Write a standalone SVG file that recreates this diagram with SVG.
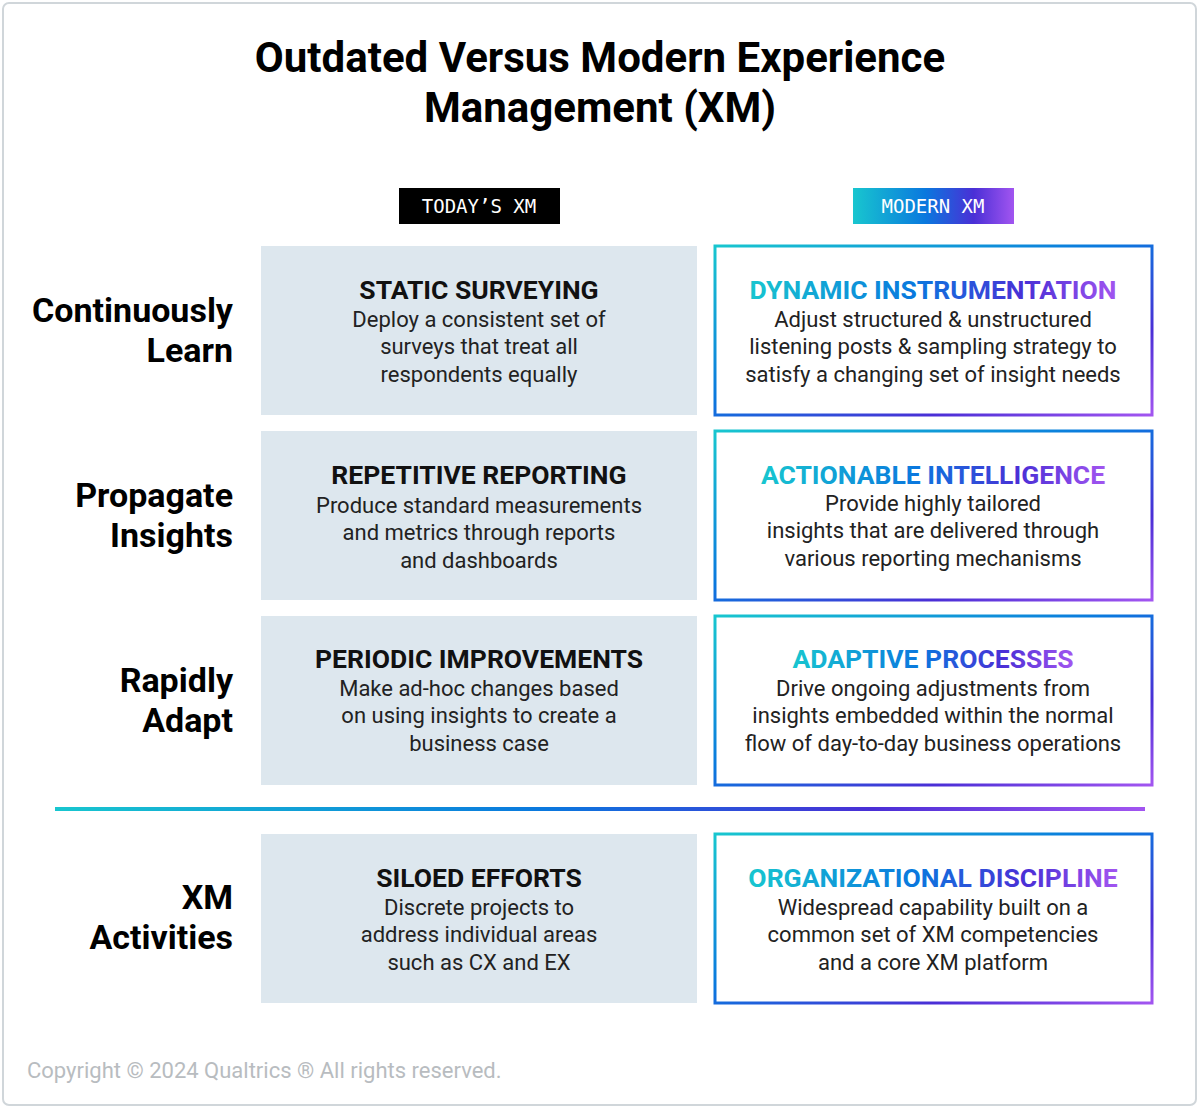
<svg xmlns="http://www.w3.org/2000/svg" width="1200" height="1109" viewBox="0 0 1200 1109">
<defs>
<linearGradient id="g" x1="0" y1="0" x2="1" y2="1"><stop offset="0" stop-color="#18c6cf"/><stop offset="0.45" stop-color="#0a78de"/><stop offset="0.75" stop-color="#4a2fd6"/><stop offset="1" stop-color="#a255f0"/></linearGradient>
<linearGradient id="gh" x1="0" y1="0" x2="1" y2="0"><stop offset="0" stop-color="#18c6cf"/><stop offset="0.45" stop-color="#0a78de"/><stop offset="0.75" stop-color="#4a2fd6"/><stop offset="1" stop-color="#a255f0"/></linearGradient>
<linearGradient id="gl" gradientUnits="userSpaceOnUse" x1="55" y1="0" x2="1145" y2="0"><stop offset="0" stop-color="#18c6cf"/><stop offset="0.45" stop-color="#0a78de"/><stop offset="0.75" stop-color="#4a2fd6"/><stop offset="1" stop-color="#a255f0"/></linearGradient>
<style>
.t{font-family:Roboto,"Liberation Sans",sans-serif;text-anchor:middle}
.row{font-family:Roboto,"Liberation Sans",sans-serif;font-weight:bold;font-size:34px;text-anchor:end;fill:#000}
.old{fill:#dde7ee}
.new{fill:#fff;stroke:url(#g);stroke-width:3}
.h{font-weight:bold;font-size:26.5px;fill:#111}
.hg{font-weight:bold;font-size:26.5px;fill:url(#gh)}
.b{font-size:22px;fill:#222}
.m{font-family:"DejaVu Sans Mono","Liberation Mono",monospace;font-size:19px;fill:#fff;text-anchor:middle}
</style>
</defs>
<rect x="3" y="3" width="1193" height="1102" rx="6" fill="#fff" stroke="#d0d6da" stroke-width="2"/>
<text class="t" x="600" y="72" font-size="42" font-weight="bold">Outdated Versus Modern Experience</text>
<text class="t" x="600" y="122" font-size="42" font-weight="bold">Management (XM)</text>
<g id="hdr-today"><rect x="399" y="188" width="161" height="36" fill="#000"/><text class="m" x="479" y="213">TODAY’S XM</text></g>
<g id="hdr-modern"><rect x="853" y="188" width="161" height="36" fill="url(#gh)"/><text class="m" x="933" y="213">MODERN XM</text></g>
<g id="lbl1"><text class="row" x="233" y="322">Continuously</text><text class="row" x="233" y="362">Learn</text></g>
<g id="lbl2"><text class="row" x="233" y="507">Propagate</text><text class="row" x="233" y="547">Insights</text></g>
<g id="lbl3"><text class="row" x="233" y="692">Rapidly</text><text class="row" x="233" y="732">Adapt</text></g>
<g id="lbl4"><text class="row" x="233" y="909">XM</text><text class="row" x="233" y="949">Activities</text></g>
<g id="o1"><rect class="old" x="261" y="246" width="436" height="169"/><text class="t h" x="479" y="299">STATIC SURVEYING</text><text class="t b" x="479" y="327">Deploy a consistent set of</text><text class="t b" x="479" y="354">surveys that treat all</text><text class="t b" x="479" y="382">respondents equally</text></g>
<g id="n1"><rect class="new" x="715" y="246" width="437" height="169"/><text class="t hg" x="933" y="299">DYNAMIC INSTRUMENTATION</text><text class="t b" x="933" y="327">Adjust structured &amp; unstructured</text><text class="t b" x="933" y="354">listening posts &amp; sampling strategy to</text><text class="t b" x="933" y="382">satisfy a changing set of insight needs</text></g>
<g id="o2"><rect class="old" x="261" y="431" width="436" height="169"/><text class="t h" x="479" y="484">REPETITIVE REPORTING</text><text class="t b" x="479" y="513">Produce standard measurements</text><text class="t b" x="479" y="540">and metrics through reports</text><text class="t b" x="479" y="568">and dashboards</text></g>
<g id="n2"><rect class="new" x="715" y="431" width="437" height="169"/><text class="t hg" x="933" y="484">ACTIONABLE INTELLIGENCE</text><text class="t b" x="933" y="511">Provide highly tailored</text><text class="t b" x="933" y="538">insights that are delivered through</text><text class="t b" x="933" y="566">various reporting mechanisms</text></g>
<g id="o3"><rect class="old" x="261" y="616" width="436" height="169"/><text class="t h" x="479" y="668">PERIODIC IMPROVEMENTS</text><text class="t b" x="479" y="696">Make ad-hoc changes based</text><text class="t b" x="479" y="723">on using insights to create a</text><text class="t b" x="479" y="751">business case</text></g>
<g id="n3"><rect class="new" x="715" y="616" width="437" height="169"/><text class="t hg" x="933" y="668">ADAPTIVE PROCESSES</text><text class="t b" x="933" y="696">Drive ongoing adjustments from</text><text class="t b" x="933" y="723">insights embedded within the normal</text><text class="t b" x="933" y="751">flow of day-to-day business operations</text></g>
<g id="connectors"><line x1="55" y1="809" x2="1145" y2="809" stroke="url(#gl)" stroke-width="4"/></g>
<g id="o4"><rect class="old" x="261" y="834" width="436" height="169"/><text class="t h" x="479" y="887">SILOED EFFORTS</text><text class="t b" x="479" y="915">Discrete projects to</text><text class="t b" x="479" y="942">address individual areas</text><text class="t b" x="479" y="970">such as CX and EX</text></g>
<g id="n4"><rect class="new" x="715" y="834" width="437" height="169"/><text class="t hg" x="933" y="887">ORGANIZATIONAL DISCIPLINE</text><text class="t b" x="933" y="915">Widespread capability built on a</text><text class="t b" x="933" y="942">common set of XM competencies</text><text class="t b" x="933" y="970">and a core XM platform</text></g>
<text x="27" y="1078" font-family="Roboto,'Liberation Sans',sans-serif" font-size="22" fill="#b8bcc0">Copyright © 2024 Qualtrics ® All rights reserved.</text>
</svg>
